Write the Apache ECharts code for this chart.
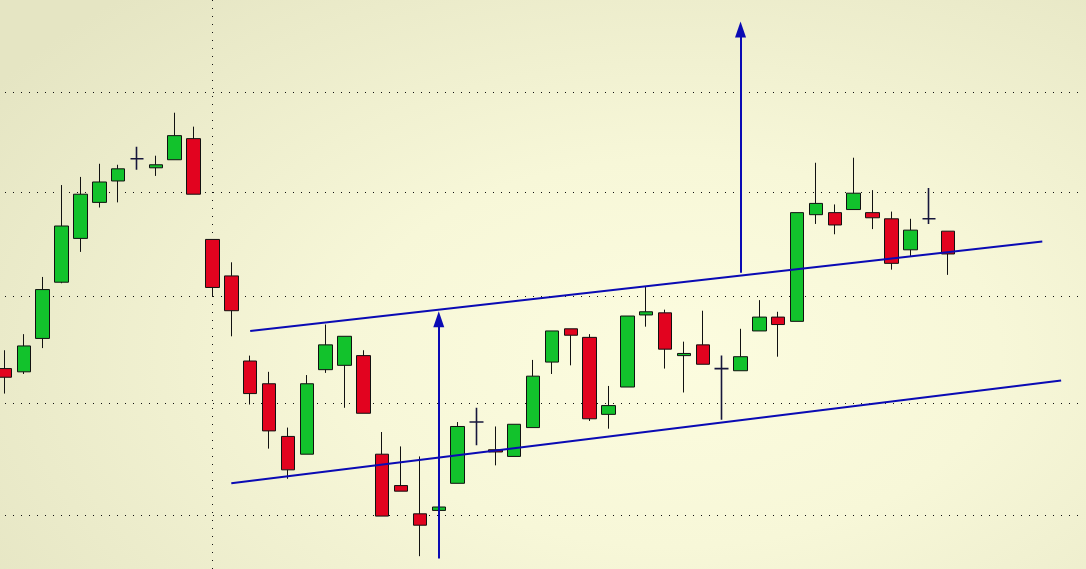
<!DOCTYPE html>
<html>
<head>
<meta charset="utf-8">
<script src="https://cdn.jsdelivr.net/npm/echarts@6.0.0/dist/echarts.min.js"></script>
<style>
    html, body { margin: 0; padding: 0; }
    #chart {
        width: 1086px;
        height: 569px;
        background: radial-gradient(ellipse 75% 85% at 62% 62%, #fcfcdf 0%, #f7f7d8 40%, #e5e5c3 100%);
    }
</style>
</head>
<body>
<div id="chart"></div>
<script>
// 58 trading slots, the last ones are empty
const categories = ['01','02','03','04','05','06','07','08','09','10','11','12','13','14','15','16','17','18','19','20',
    '21','22','23','24','25','26','27','28','29','30','31','32','33','34','35','36','37','38','39','40',
    '41','42','43','44','45','46','47','48','49','50','51','52','53','54','55','56','57','58']

const opens = [27.32, 27.29, 27.60, 28.13, 28.55, 28.90, 29.11, 29.33, 29.24, 29.32, 29.53, 28.54, 28.19, 27.39, 27.18, 26.70, 26.54,
    27.31, 27.35, 27.44, 26.54, 26.26, 26.01, 26.04, 26.28, 26.83, 26.58, 26.52, 26.78, 27.38, 27.69, 27.61, 26.90, 27.15,
    27.82, 27.84, 27.44, 27.54, 27.32, 27.30, 27.67, 27.80, 27.76, 28.78, 28.80, 28.83, 28.80, 28.74, 28.44, 28.74, 28.62]
const closes = [27.24, 27.53, 28.06, 28.67, 28.98, 29.10, 29.23, 29.33, 29.27, 29.56, 28.98, 28.08, 27.86, 27.09, 26.75, 26.40, 27.18,
    27.54, 27.62, 26.91, 25.99, 26.21, 25.91, 26.07, 26.79, 26.83, 26.56, 26.81, 27.25, 27.67, 27.63, 26.86, 26.98, 27.81,
    27.85, 27.50, 27.46, 27.36, 27.32, 27.43, 27.80, 27.73, 28.80, 28.89, 28.68, 28.99, 28.75, 28.31, 28.63, 28.74, 28.40]
const lows = [27.09, 27.27, 27.51, 28.12, 28.42, 28.85, 28.90, 29.22, 29.16, 29.32, 28.98, 27.99, 27.62, 26.99, 26.59, 26.32, 26.54,
    27.28, 26.96, 26.91, 25.99, 26.21, 25.64, 26.02, 26.28, 26.62, 26.44, 26.52, 26.78, 27.27, 27.35, 26.84, 26.77, 27.15,
    27.71, 27.32, 27.10, 27.36, 26.85, 27.30, 27.67, 27.43, 27.76, 28.69, 28.59, 28.83, 28.64, 28.25, 28.38, 28.69, 28.20]
const highs = [27.49, 27.64, 28.18, 29.07, 29.15, 29.28, 29.27, 29.45, 29.36, 29.79, 29.65, 28.54, 28.32, 27.44, 27.29, 26.78, 27.26,
    27.73, 27.62, 27.49, 26.74, 26.61, 26.52, 26.10, 26.83, 26.96, 26.79, 26.81, 27.40, 27.67, 27.69, 27.64, 27.16, 27.81,
    28.09, 27.87, 27.57, 27.86, 27.44, 27.69, 27.96, 27.85, 28.80, 29.29, 28.88, 29.34, 29.02, 28.81, 28.74, 29.04, 28.62]

// price grid levels and the dotted date separator
const gridLevels = [26, 27, 28, 29, 30]
const separatorIndex = 11

// channel lines [startIndex, startPrice, endIndex, endPrice]
const upperChannel = [13, 27.67, 55, 28.52]
const lowerChannel = [12, 26.28, 56, 27.21]
// target arrows [index, fromPrice, toPrice]
const arrowLeft = [23, 25.62, 27.78]
const arrowRight = [39, 28.22, 30.64]

const blue = '#0a0ab4'

const candleData = opens.map((o, i) => {
    const item = { value: [o, closes[i], lows[i], highs[i]] }
    if (o === closes[i]) {
        item.itemStyle = { borderWidth: 1.6 }
    }
    return item
})

const channel = (c) => [{ coord: [c[0], c[1]] }, { coord: [c[2], c[3]] }]
const arrow = (a) => [
    { coord: [a[0], a[1]], symbol: 'none' },
    { coord: [a[0], a[2]], symbol: 'triangle', symbolSize: [11, 16] }
]

const myChart = echarts.init(document.getElementById('chart'), null, { renderer: 'canvas' })
myChart.setOption({
    animation: false,
    grid: {
        left: 5,
        right: 6,
        top: 0,
        bottom: 0
    },
    xAxis: {
        type: 'category',
        data: categories,
        boundaryGap: false,
        show: false
    },
    yAxis: {
        type: 'log',
        min: 25.529,
        max: 30.948,
        show: false,
        splitLine: { show: false }
    },
    series: [
        {
            // dotted grid, kept below the candles
            type: 'line',
            data: [],
            silent: true,
            markLine: {
                z: 1,
                silent: true,
                symbol: ['none', 'none'],
                label: { show: false },
                lineStyle: {
                    color: '#111',
                    width: 1,
                    type: [1, 7]
                },
                emphasis: { disabled: true },
                data: [
                    ...gridLevels.map(v => ({ yAxis: v })),
                    { xAxis: separatorIndex }
                ]
            }
        },
        {
            type: 'candlestick',
            data: candleData,
            barWidth: 14,
            clip: false,
            silent: true,
            z: 3,
            itemStyle: {
                color: '#12c22c',
                color0: '#e2031f',
                borderColor: '#111',
                borderColor0: '#111',
                borderColorDoji: '#16163c',
                borderWidth: 1
            },
            markLine: {
                z: 6,
                silent: true,
                symbol: ['none', 'none'],
                label: { show: false },
                lineStyle: {
                    color: blue,
                    width: 2,
                    type: 'solid'
                },
                emphasis: { disabled: true },
                data: [
                    channel(upperChannel),
                    channel(lowerChannel),
                    arrow(arrowLeft),
                    arrow(arrowRight)
                ]
            }
        }
    ]
})
</script>
</body>
</html>
